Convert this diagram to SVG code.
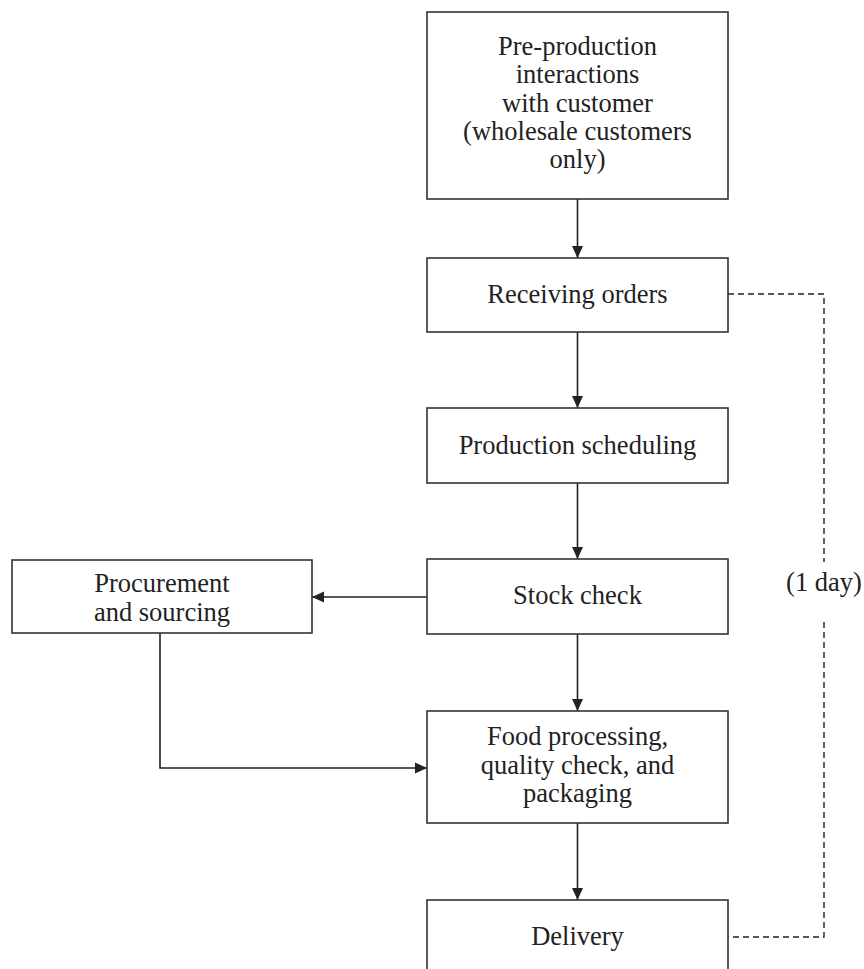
<svg xmlns="http://www.w3.org/2000/svg" width="864" height="969" viewBox="0 0 864 969">
<defs>
<style>
.box{fill:#fff;stroke:#333;stroke-width:1.6}
.t{font-family:"Liberation Serif","Times New Roman",serif;font-size:26.5px;fill:#222;text-anchor:middle}
.c{fill:none;stroke:#222;stroke-width:1.6}
.d{fill:none;stroke:#222;stroke-width:1.4;stroke-dasharray:6 4}
</style>
<marker id="ah" markerUnits="userSpaceOnUse" markerWidth="14" markerHeight="12" refX="12" refY="6" orient="auto" viewBox="0 0 14 12">
<path d="M0,0.5 L12,6 L0,11.5 z" fill="#222"/>
</marker>
</defs>
<rect width="864" height="969" fill="#fff"/>
<g id="connectors">
<line class="c" x1="577.5" y1="199" x2="577.5" y2="258" marker-end="url(#ah)"/>
<line class="c" x1="577.5" y1="332" x2="577.5" y2="408" marker-end="url(#ah)"/>
<line class="c" x1="577.5" y1="483" x2="577.5" y2="559" marker-end="url(#ah)"/>
<line class="c" x1="427" y1="597" x2="312" y2="597" marker-end="url(#ah)"/>
<line class="c" x1="577.5" y1="634" x2="577.5" y2="711" marker-end="url(#ah)"/>
<polyline class="c" points="160,633 160,768 427,768" marker-end="url(#ah)"/>
<line class="c" x1="577.5" y1="823" x2="577.5" y2="900" marker-end="url(#ah)"/>
<polyline class="d" points="728,294 824,294 824,562"/>
<polyline class="d" points="824,622 824,937 728,937"/>
<text class="t" x="824" y="591">(1 day)</text>
</g>
<g id="preproduction">
<rect class="box" x="427" y="12" width="301" height="187"/>
<text class="t" x="577.5" y="55">Pre-production</text>
<text class="t" x="577.5" y="83">interactions</text>
<text class="t" x="577.5" y="112">with customer</text>
<text class="t" x="577.5" y="140">(wholesale customers</text>
<text class="t" x="577.5" y="168">only)</text>
</g>
<g id="receiving">
<rect class="box" x="427" y="258" width="301" height="74"/>
<text class="t" x="577.5" y="303">Receiving orders</text>
</g>
<g id="scheduling">
<rect class="box" x="427" y="408" width="301" height="75"/>
<text class="t" x="577.5" y="454">Production scheduling</text>
</g>
<g id="stockcheck">
<rect class="box" x="427" y="559" width="301" height="75"/>
<text class="t" x="577.5" y="604">Stock check</text>
</g>
<g id="procurement">
<rect class="box" x="12" y="560" width="300" height="73"/>
<text class="t" x="162" y="592">Procurement</text>
<text class="t" x="162" y="621">and sourcing</text>
</g>
<g id="foodprocessing">
<rect class="box" x="427" y="711" width="301" height="112"/>
<text class="t" x="577.5" y="745">Food processing,</text>
<text class="t" x="577.5" y="774">quality check, and</text>
<text class="t" x="577.5" y="802">packaging</text>
</g>
<g id="delivery">
<rect class="box" x="427" y="900" width="301" height="80"/>
<text class="t" x="577.5" y="945">Delivery</text>
</g>
</svg>
